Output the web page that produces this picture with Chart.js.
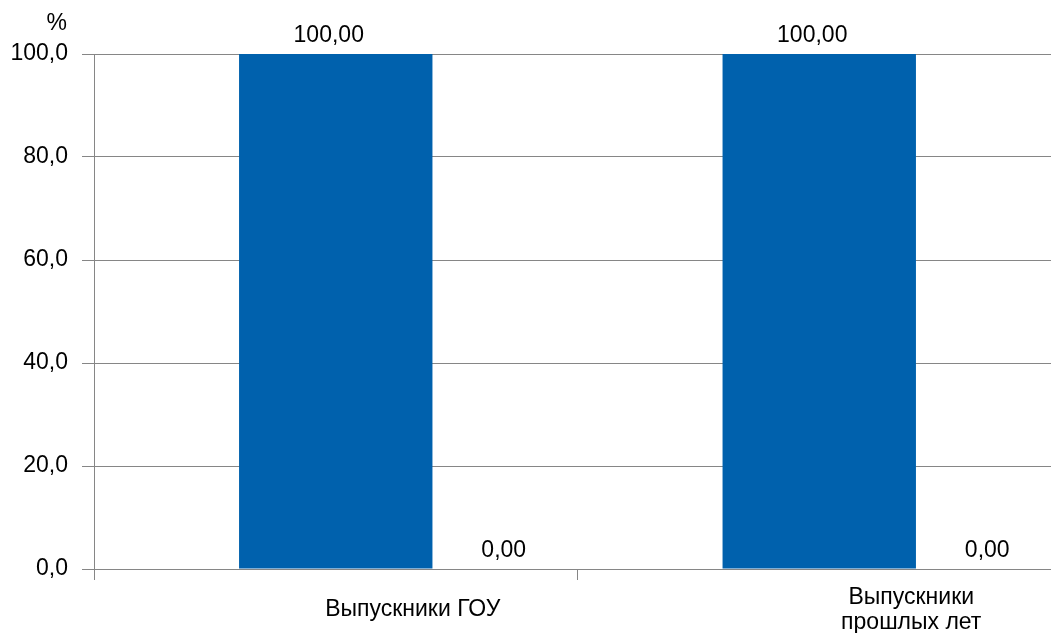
<!DOCTYPE html>
<html>
<head>
<meta charset="utf-8">
<script src="https://cdn.jsdelivr.net/npm/chart.js@4.4.0/dist/chart.umd.min.js"></script>
<style>
    html, body { margin: 0; padding: 0; background: #fff; overflow: hidden; }
    #wrap { width: 1061px; height: 633px; }
</style>
</head>
<body>
<div id="wrap"><canvas id="chartVypusk"></canvas></div>
<script>
const categorias = [['Выпускники ГОУ'], ['Выпускники', 'прошлых лет']];
const serieA = [100, 100];
const serieB = [0, 0];
const ticksY = [0, 20, 40, 60, 80, 100];

const fuente = '"Liberation Sans", Arial, sans-serif';
const gris = '#868686';

// etiquetas de valores, "%" y categorias
const etiquetas = {
    id: 'etiquetas',
    afterDatasetsDraw(chart, args, opts) {
        const ctx = chart.ctx;
        const area = chart.chartArea;
        const y = chart.scales.y;
        const x = chart.scales.x;
        ctx.save();
        ctx.font = '23px ' + fuente;
        ctx.fillStyle = '#000';
        ctx.textBaseline = 'alphabetic';

        ctx.textAlign = 'center';
        chart.data.datasets.forEach((ds, i) => {
            const meta = chart.getDatasetMeta(i);
            meta.data.forEach((bar, j) => {
                const shift = i === 1 ? opts.desplazaCero : opts.desplazaValor;
                ctx.fillText(ds.data[j].toFixed(2).replace('.', ','), bar.x + shift, bar.y - 12);
            });
        });

        ctx.textAlign = 'right';
        ctx.fillText('%', y.right - 27, area.top - 24);

        ctx.textAlign = 'center';
        categorias.forEach((lineas, i) => {
            const cx = x.getPixelForValue(i) + opts.desplaza[i];
            const base = area.bottom + 47 - (lineas.length - 1) * 12.5;
            lineas.forEach((t, k) => ctx.fillText(t, cx, base + k * 25));
        });
        ctx.restore();
    }
};

const data = {
    labels: categorias.map((c) => c.join(' ')),
    datasets: [{
        label: 'Доля',
        data: serieA,
        backgroundColor: '#0061AD',
        barPercentage: 0.4,
        categoryPercentage: 1,
        grouped: false
    }, {
        label: 'Прочие',
        data: serieB,
        backgroundColor: '#C0504D',
        barPercentage: 0.4,
        categoryPercentage: 1,
        grouped: false
    }]
};

const config = {
    type: 'bar',
    data: data,
    options: {
        responsive: true,
        maintainAspectRatio: false,
        animation: false,
        layout: { padding: { top: 54, left: 0, right: 0, bottom: 0 } },
        plugins: {
            legend: { display: false },
            tooltip: { enabled: false },
            etiquetas: { desplaza: [77, 92], desplazaValor: -7, desplazaCero: 168 }
        },
        scales: {
            x: {
                afterFit: (s) => { s.height = 64; },
                ticks: { display: false },
                grid: { offset: true, drawOnChartArea: false, drawTicks: true, tickLength: 11, color: gris },
                border: { display: true, color: gris }
            },
            y: {
                min: 0,
                max: 100,
                afterFit: (s) => { s.width = 94; },
                afterBuildTicks: (s) => { s.ticks = ticksY.map((v) => ({ value: v })); },
                ticks: {
                    padding: 14,
                    color: '#000',
                    font: { family: fuente, size: 23 },
                    callback: (v) => v.toFixed(1).replace('.', ',')
                },
                grid: { color: gris, tickLength: 12 },
                border: { display: true, color: gris }
            }
        }
    },
    plugins: [etiquetas]
};

const graficoBarras = new Chart(document.getElementById('chartVypusk'), config);
</script>
</body>
</html>
